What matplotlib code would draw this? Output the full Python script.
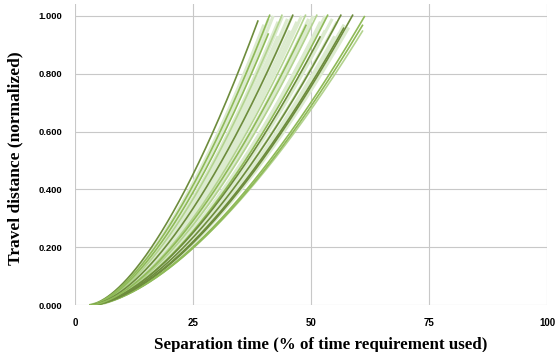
import numpy as np
import matplotlib
matplotlib.use("Agg")
import matplotlib.pyplot as plt

# Curve parameters: start x, end x, end y, curve exponent, shade key
start_x = [3.0, 3.0, 3.2, 3.3, 3.4, 3.4, 3.4, 3.5, 3.5, 3.5, 3.5, 3.5, 3.5, 3.5, 3.4, 3.4]
end_x   = [38.8, 41.3, 41.0, 43.9, 46.2, 48.9, 51.3, 53.6, 56.4, 58.9, 61.4, 61.0, 61.0, 57.0, 52.0, 49.0]
end_y   = [0.985, 1.005, 0.94, 1.005, 1.005, 1.005, 1.005, 1.005, 1.005, 1.005, 1.0, 0.97, 0.95, 0.96, 0.93, 0.97]
expo    = [1.60, 1.60, 1.60, 1.61, 1.61, 1.62, 1.62, 1.62, 1.62, 1.63, 1.62, 1.62, 1.60, 1.62, 1.62, 1.61]
shade   = ['dark', 'mid', 'mid', 'light', 'dark', 'light', 'light', 'mid', 'dark', 'dark', 'mid', 'mid', 'light', 'dark', 'dark', 'mid']

# Pale in-between curves
pale_start = [3.1, 3.2, 3.3, 3.3, 3.4, 3.4, 3.4, 3.4, 3.5, 3.5, 3.5, 3.5, 3.5, 3.5, 3.5, 3.5,
              3.3, 3.4, 3.5, 3.5, 3.3, 3.4, 3.5, 3.5, 3.4, 3.5]
pale_end_x = [40.0, 41.0, 42.0, 43.0, 44.0, 45.0, 46.0, 47.0, 48.0, 49.5, 50.5, 52.0, 53.0, 54.5, 55.5, 57.0,
              45.5, 49.0, 53.0, 56.0, 43.0, 47.5, 51.0, 55.0, 50.0, 58.0]
pale_end_y = [0.97, 0.99, 1.0, 0.98, 1.0, 0.99, 1.0, 0.98, 1.0, 0.99, 1.0, 0.98, 1.0, 0.99, 0.98, 0.97,
              0.95, 0.96, 0.95, 0.94, 0.93, 0.92, 0.94, 0.93, 0.97, 0.96]
pale_expo  = [1.60, 1.60, 1.60, 1.61, 1.61, 1.61, 1.61, 1.62, 1.62, 1.62, 1.62, 1.62, 1.62, 1.62, 1.62, 1.62,
              1.61, 1.62, 1.62, 1.62, 1.60, 1.61, 1.62, 1.62, 1.62, 1.62]

x_ticks = [0, 25, 50, 75, 100]
y_ticks = [0.0, 0.2, 0.4, 0.6, 0.8, 1.0]

colors = {'dark': '#6d8c3c', 'mid': '#8fba58', 'light': '#b3d38f', 'pale': '#dcebcf'}

fig = plt.figure(figsize=(5.57, 3.52), dpi=100)
ax = fig.add_axes([0.1347, 0.1335, 0.8473, 0.854])

def curve(x0, xe, ye, p):
    t = np.linspace(0, 1, 200)
    return x0 + (xe - x0) * t, ye * t ** p

for x0, xe, ye, p in zip(pale_start, pale_end_x, pale_end_y, pale_expo):
    cx, cy = curve(x0, xe, ye, p)
    ax.plot(cx, cy, color=colors['pale'], lw=2.2, zorder=2, solid_capstyle='butt')
for x0, xe, ye, p, s in zip(start_x, end_x, end_y, expo, shade):
    cx, cy = curve(x0, xe, ye, p)
    ax.plot(cx, cy, color=colors[s], lw=1.2, zorder=3 if s != 'light' else 2.5, solid_capstyle='butt')

ax.set_xlim(0, 100)
ax.set_ylim(0, 1.04)
ax.set_xticks(x_ticks)
ax.set_yticks(y_ticks)
ax.set_xticklabels([str(v) for v in x_ticks], fontsize=7, fontweight='bold', family='Liberation Sans')
ax.set_yticklabels([f"{v:.3f}" for v in y_ticks], fontsize=6.8, fontweight='bold', family='Liberation Sans')
ax.tick_params(axis='x', length=0, pad=9)
ax.tick_params(axis='y', length=0, pad=9)
ax.grid(True, color='#c8c8c8', lw=0.8)
ax.set_axisbelow(True)
for s in ax.spines.values():
    s.set_visible(False)

ax.set_xlabel("Separation time (% of time requirement used)", fontsize=12.2, fontweight='bold',
              family='Liberation Serif', labelpad=6)
ax.xaxis.set_label_coords(0.52, -0.105)
ax.set_ylabel("Travel distance (normalized)", fontsize=12.5, fontweight='bold',
              family='Liberation Serif', labelpad=8)
ax.yaxis.set_label_coords(-0.11, 0.49)

fig.savefig("out.png", dpi=100)
